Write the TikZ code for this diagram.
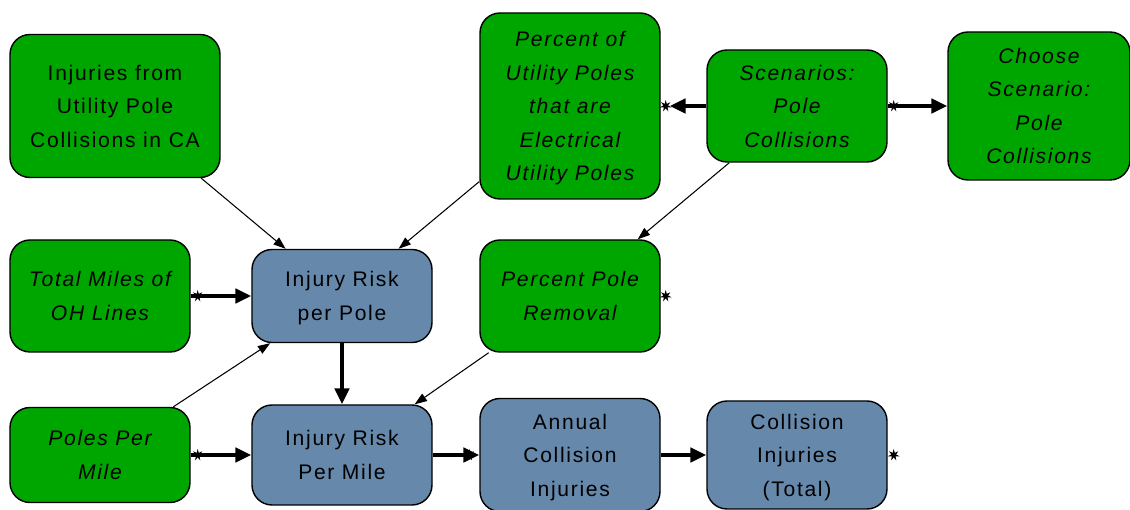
\documentclass[tikz,border=0pt]{standalone}
\usepackage{fontspec}
\setmainfont{Liberation Sans}[LetterSpace=8]
\usetikzlibrary{positioning,arrows.meta,shapes.geometric}
\definecolor{nodegreen}{RGB}{0,166,0}
\definecolor{nodeblue}{RGB}{102,136,170}
\tikzset{
>={Triangle[length=7pt,width=5pt]},
every node/.style={align=center},
model/.style={draw=black, line width=0.8pt, rounded corners=0.4cm,
  minimum width=3.6cm, inner sep=0pt, text depth=-1pt,
  font=\fontsize{12}{19}\selectfont},
input/.style={model, fill=nodegreen, font=\fontsize{12}{19}\selectfont\itshape},
calc/.style={model, fill=nodeblue},
link/.style={->, line width=0.6pt},
flow/.style={->, line width=2.3pt, >={Triangle[length=9pt,width=8pt]}},
ghost/.style={star, star points=7, star point ratio=2.5, fill=black,
  inner sep=0pt, minimum size=0.24cm},
}

\begin{document}
\begin{tikzpicture}
    \useasboundingbox (-6.84,-4.28) rectangle (15.76,5.92);
    % middle row
    \node[calc, minimum height=1.86cm] (riskpole) {Injury Risk\\per Pole};
    \node[input, minimum height=2.24cm, node distance=4.84cm, left of=riskpole] (miles) {Total Miles of\\OH Lines};
    \node[input, minimum height=2.24cm, node distance=4.56cm, right of=riskpole] (removal) {Percent Pole\\Removal};
    % bottom row
    \node[calc, minimum height=2cm, node distance=3.18cm, below of=riskpole] (riskmile) {Injury Risk\\Per Mile};
    \node[input, minimum height=1.9cm, node distance=4.84cm, left of=riskmile] (ppm) {Poles Per\\Mile};
    \node[calc, minimum height=2.26cm, node distance=4.56cm, right of=riskmile] (annual) {Annual\\Collision\\Injuries};
    \node[calc, minimum height=2.16cm, node distance=4.54cm, right of=annual] (total) {Collision\\Injuries\\(Total)};
    % top row
    \node[input, minimum height=3.72cm, node distance=3.8cm, above of=removal] (pct) {Percent of\\Utility Poles\\that are\\Electrical\\Utility Poles};
    \node[model, fill=nodegreen, minimum width=4.2cm, minimum height=2.86cm, node distance=3.8cm, above of=miles, xshift=0.3cm] (inj) {Injuries from\\Utility Pole\\Collisions in CA};
    \node[input, minimum height=2.24cm, node distance=4.54cm, right of=pct] (scen) {Scenarios:\\Pole\\Collisions};
    \node[input, minimum width=3.64cm, minimum height=2.96cm, node distance=4.84cm, right of=scen] (choose) {Choose\\Scenario:\\Pole\\Collisions};

    \draw (inj) edge[link] (riskpole);
    \draw (pct) edge[link] (riskpole);
    \draw (ppm) edge[link] (riskpole);
    \draw (scen) edge[link] (removal);
    \draw (removal) edge[link] (riskmile);

    \draw (scen) edge[flow, shorten >=0.18cm] (pct);
    \draw (scen) edge[flow] (choose);
    \draw (miles) edge[flow] (riskpole);
    \draw (riskpole) edge[flow] (riskmile);
    \draw (ppm) edge[flow] (riskmile);
    \draw (riskmile) edge[flow] (annual);
    \draw (annual) edge[flow] (total);

    \node[ghost] (gpct) at ([xshift=0.1cm]pct.east) {};
    \node[ghost] (gscen) at ([xshift=0.12cm]scen.east) {};
    \node[ghost] (gmiles) at ([xshift=0.14cm]miles.east) {};
    \node[ghost] (gremoval) at ([xshift=0.1cm]removal.east) {};
    \node[ghost] (gppm) at ([xshift=0.14cm]ppm.east) {};
    \node[ghost] (gannual) at ([xshift=-0.2cm]annual.west) {};
    \node[ghost] (gtotal) at ([xshift=0.12cm]total.east) {};
\end{tikzpicture}
\end{document}
